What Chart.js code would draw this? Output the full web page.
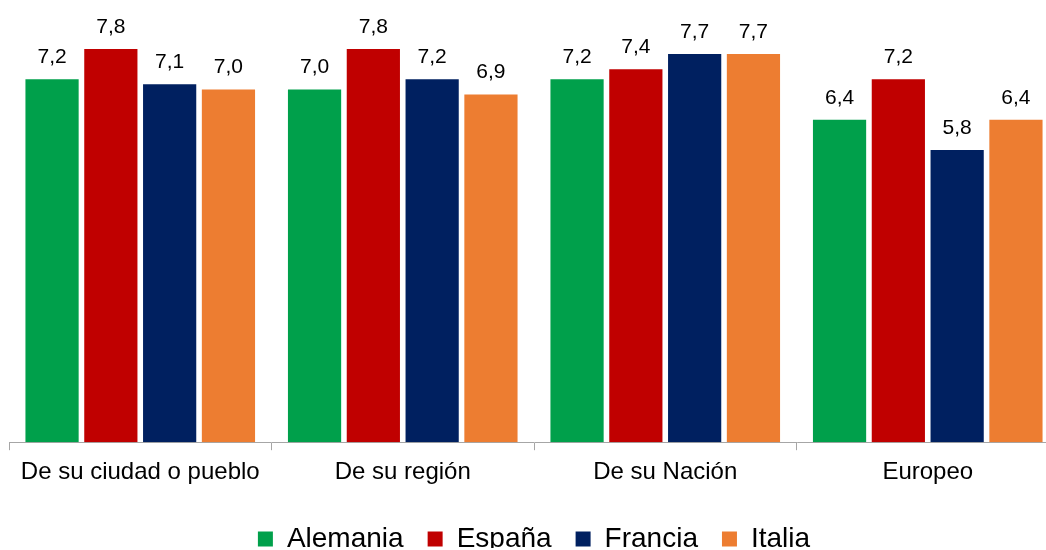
<!DOCTYPE html>
<html>
<head>
<meta charset="utf-8">
<script src="https://cdn.jsdelivr.net/npm/chart.js@4.4.1/dist/chart.umd.min.js"></script>
<style>
html,body{margin:0;padding:0;background:#fff;overflow:hidden;width:1046px;height:550px;}
#wrap{position:relative;width:1059px;height:550px;}
</style>
</head>
<body>
<div id="wrap"><canvas id="c"></canvas></div>
<script>
const categories = ["De su ciudad o pueblo", "De su región", "De su Nación", "Europeo"];
const alemania = [7.2, 7.0, 7.2, 6.4];
const espana   = [7.8, 7.8, 7.4, 7.2];
const francia  = [7.1, 7.2, 7.7, 5.8];
const italia   = [7.0, 6.9, 7.7, 6.4];
const seriesNames = ["Alemania", "España", "Francia", "Italia"];
const seriesColors = ["#00A04B", "#C00000", "#002060", "#ED7D31"];
const seriesData = [alemania, espana, francia, italia];

const FONT = "'Liberation Sans', Arial, sans-serif";

const valueLabels = {
  id: 'valueLabels',
  afterDatasetsDraw(chart) {
    const ctx = chart.ctx;
    ctx.save();
    ctx.font = "21px " + FONT;
    ctx.fillStyle = "#000";
    ctx.textAlign = "center";
    ctx.textBaseline = "alphabetic";
    chart.data.datasets.forEach((ds, i) => {
      const meta = chart.getDatasetMeta(i);
      meta.data.forEach((bar, j) => {
        const v = ds.data[j];
        ctx.fillText(v.toFixed(1).replace('.', ','), bar.x, bar.y - 16);
      });
    });
    ctx.restore();
  }
};

const legendShift = {
  id: 'legendShift',
  afterInit(chart) {
    const lg = chart.legend;
    if (lg && !lg._shifted) {
      const f = lg.fit;
      lg.fit = function () { f.call(this); this.height -= 15; };
      lg._shifted = true;
    }
  }
};

new Chart(document.getElementById('c'), {
  type: 'bar',
  data: {
    labels: categories,
    datasets: seriesNames.map((n, i) => ({
      label: n,
      data: seriesData[i],
      backgroundColor: seriesColors[i],
      borderWidth: 0,
      categoryPercentage: 0.896,
      barPercentage: 0.905
    }))
  },
  options: {
    responsive: true,
    maintainAspectRatio: false,
    animation: false,
    layout: { padding: { top: 39, left: 9, right: 0, bottom: 2 } },
    plugins: {
      tooltip: { enabled: false },
      legend: {
        position: 'bottom',
        labels: {
          font: { family: FONT, size: 28 },
          color: '#000',
          boxWidth: 15,
          boxHeight: 15,
          padding: 24
        }
      }
    },
    scales: {
      y: { display: false, min: 0, max: 8 },
      x: {
        afterFit(scale) { scale.height += 6; },
        grid: { display: true, drawOnChartArea: false, drawTicks: true, tickLength: 8, color: '#a6a6a6', offset: true },
        border: { display: true, color: '#a6a6a6', width: 1 },
        ticks: { font: { family: FONT, size: 24 }, color: '#000', padding: 8, maxRotation: 0 }
      }
    }
  },
  plugins: [legendShift, valueLabels]
});
</script>
</body>
</html>
